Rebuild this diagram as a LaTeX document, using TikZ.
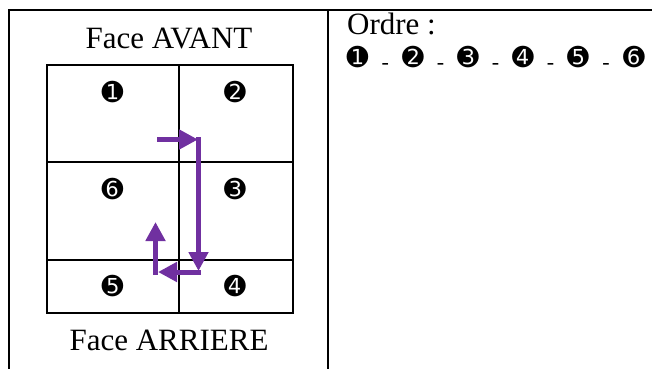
\documentclass[tikz,border=0pt]{standalone}
\usepackage{fontspec}
\setmainfont{Liberation Serif}
\newfontfamily\dingfont{DejaVu Sans}
\usetikzlibrary{arrows.meta,calc}
\definecolor{arrowpurple}{HTML}{7030A0}
\begin{document}
\begin{tikzpicture}[x=1pt,y=-1pt,
  rule/.style={line width=2.7pt,black},
  label/.style={inner sep=0pt,font=\fontsize{31}{31}\selectfont},
  num/.style={inner sep=0pt,font=\dingfont\fontsize{26}{26}\selectfont},
  dashsep/.style={inner sep=0pt,font=\fontsize{22}{22}\selectfont},
  flow/.style={line width=5pt,arrowpurple,-{Triangle[length=19pt,width=19pt]}}]
\useasboundingbox (0,0) rectangle (652,369);
% table rules
\coordinate (tl) at (9,10);
\coordinate (tr) at (652,10);
\coordinate (bl) at (9,369);
\coordinate (mt) at (328,10);
\coordinate (mb) at (328,369);
\draw[rule] (tr) -- (tl) -- (bl);
\draw[rule] (mt) -- (mb);
% grid
\draw[rule] (47,65) rectangle (293,313);
\draw[rule] (179,65) -- (179,313);
\draw[rule] (47,162) -- (293,162);
\draw[rule] (47,260) -- (293,260);
% labels
\node[label] (avant) at (169,39) {Face AVANT};
\node[label] (arriere) at (169,340) {Face ARRIERE};
\node[label,anchor=base west] (ordre) at (347,35) {Ordre :};
% cell numbers
\node[num] (n1) at (112.5,92) {➊};
\node[num] (n2) at (235,92) {➋};
\node[num] (n6) at (112.5,189) {➏};
\node[num] (n3) at (235,189) {➌};
\node[num] (n5) at (112.5,286) {➎};
\node[num] (n4) at (235,286) {➍};
% order line
\node[num] (o1) at (357.5,57) {➊};
\node[num] (o2) at (413,57) {➋};
\node[num] (o3) at (468,57) {➌};
\node[num] (o4) at (523,57) {➍};
\node[num] (o5) at (578,57) {➎};
\node[num] (o6) at (634,57) {➏};
\foreach \a/\b in {o1/o2,o2/o3,o3/o4,o4/o5,o5/o6}
  \node[dashsep] (d\a) at ($(\a)!0.5!(\b)+(0,9)$) {-};
% arrows
\coordinate (a0) at (157,139.5);
\coordinate (a1) at (198,139.5);
\coordinate (b0) at (198.5,137);
\coordinate (b1) at (198.5,271);
\coordinate (c0) at (201,272);
\coordinate (c1) at (158,272);
\coordinate (e0) at (155.5,274.5);
\coordinate (e1) at (155.5,222);
\draw[flow] (a0) -- (a1);
\draw[flow] (b0) -- (b1);
\draw[flow] (c0) -- (c1);
\draw[flow] (e0) -- (e1);
\end{tikzpicture}
\end{document}
